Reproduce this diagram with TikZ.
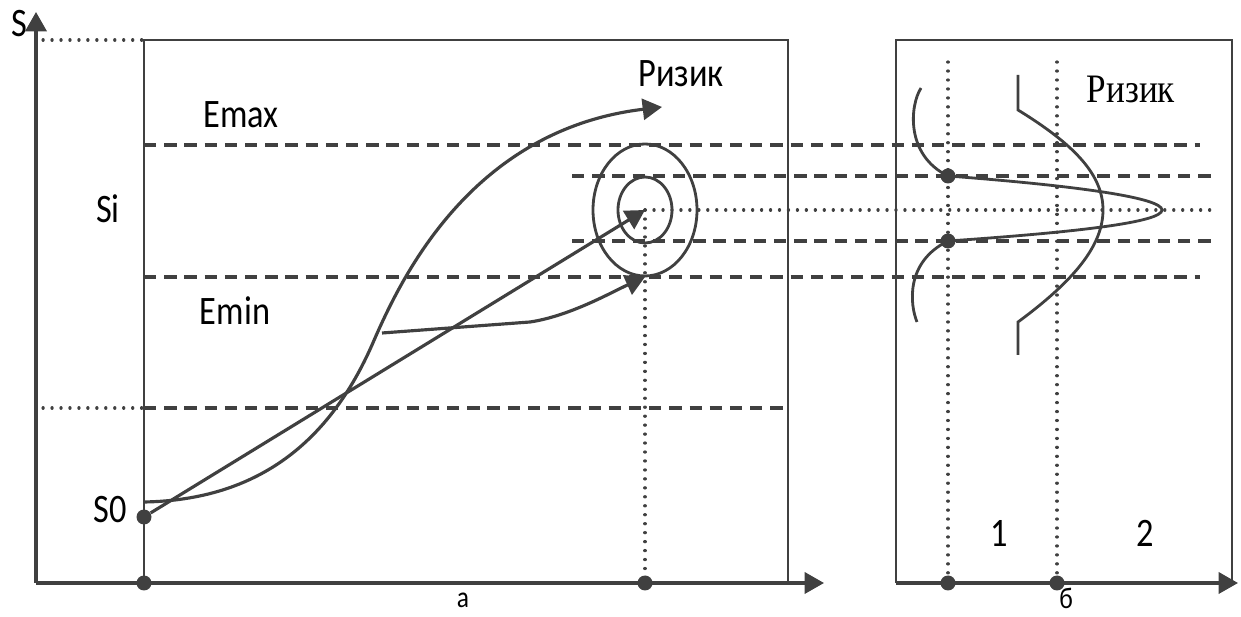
\documentclass[tikz,border=0pt]{standalone}
\usepackage{fontspec}
\setmainfont{Carlito}[FakeStretch=0.85]
\newfontfamily\timesru{Liberation Serif}[FakeStretch=0.87]
\usepackage{xcolor}
\usetikzlibrary{arrows.meta,positioning}
\definecolor{ink}{HTML}{404040}

\begin{document}
\begin{tikzpicture}[
  x=0.02cm, y=-0.02cm,
  frame/.style={draw=ink, line width=1.6pt},
  axis/.style={draw=ink, line width=1.9pt, -{Triangle[length=11pt,width=12pt]}},
  arrow/.style={draw=ink, line width=1.8pt, -{Triangle[length=11pt,width=12pt]}},
  level/.style={draw=ink, line width=2pt, dash pattern=on 7pt off 4.5pt},
  guide/.style={draw=ink, line width=1.8pt, dash pattern=on 0.1pt off 5pt, line cap=round},
  dot/.style={circle, fill=ink, inner sep=0pt, minimum size=0.3cm},
  lab/.style={anchor=base, inner sep=0pt, font=\fontsize{23}{27}\selectfont},
  sub/.style={anchor=base, inner sep=0pt, font=\fontsize{17}{20}\selectfont}
]
\useasboundingbox (0,0) rectangle (1241,617);

% axes and frames
\coordinate (O) at (36,583);
\coordinate (ytip) at (36,12);
\coordinate (xtip) at (824,583);
\coordinate (O2) at (896,583);
\coordinate (xtip2) at (1238,583);
\draw[axis] (O) -- (ytip);
\draw[axis] (O) -- (xtip);
\draw[axis] (O2) -- (xtip2);
\draw[frame] (144,583) -- (144,40) -- (788,40) -- (788,583);
\draw[frame] (896,583) -- (896,40) -- (1232,40) -- (1232,583);

% levels
\draw[level] (144,145) -- (1200,145);
\draw[level] (144,277) -- (1200,277);
\draw[level] (144,408) -- (788,408);
\draw[level] (572,176) -- (1218,176);
\draw[level] (572,241) -- (1218,241);

% points
\coordinate (ctr) at (645,210);
\coordinate (rbot) at (645,277);
\node[dot] (o) at (144,583) {};
\node[dot] (s0) at (144,517) {};
\node[dot] (ri) at (645,583) {};
\node[dot] (p1) at (948,583) {};
\node[dot] (p2) at (1057,583) {};
\node[dot] (up) at (948,176) {};
\node[dot] (lo) at (948,241) {};

% guides
\draw[guide] (43,40) -- (144,40);
\draw[guide] (43,408) -- (144,408);
\draw[guide] (ctr) -- (1218,210);
\draw[guide] (ctr) -- (ri);
\draw[guide] (948,62) -- (p1);
\draw[guide] (1057,62) -- (p2);

% target
\draw[frame] (ctr) ellipse [x radius=52, y radius=66];
\draw[frame] (ctr) ellipse [x radius=27, y radius=33];

% trajectories
\draw[arrow] (s0) -- (ctr);
\draw[arrow] (144,502) .. controls (260,500) and (330,440) .. (372,345)
  .. controls (400,280) and (470,130) .. (662,107);
\draw[arrow] (382,333) -- (530,322) .. controls (570,316) and (612,292) .. (rbot);

% distributions
\draw[frame] (921,88) .. controls (910,105) and (905,155) .. (up.center);
\draw[frame] (up.center) .. controls (1080,186) and (1162,198) .. (1162,210)
  .. controls (1162,222) and (1080,232) .. (lo.center);
\draw[frame] (lo.center) .. controls (905,262) and (910,305) .. (917,322);
\draw[frame] (1018,75) -- (1018,110) .. controls (1075,145) and (1103,175) .. (1103,210)
  .. controls (1103,245) and (1075,280) .. (1018,322) -- (1018,355);

% labels
\node[lab] (lS) at (19,37) {S};
\node[lab] (lEmax) at (241,128) {Emax};
\node[lab] (lSi) at (108,223) {Si};
\node[lab] (lEmin) at (235,325) {Emin};
\node[lab] (lS0) at (110,523) {S0};
\node[lab] (lrisk) at (681,87) {Ризик};
\node[lab, font=\fontsize{23}{27}\timesru] (lrisk2) at (1131,103) {Ризик};
\node[lab] (l1) at (999,547) {1};
\node[lab] (l2) at (1145,547) {2};
\node[sub] (la) at (463,608) {а};
\node[sub] (lb) at (1066,609) {б};
\end{tikzpicture}
\end{document}
